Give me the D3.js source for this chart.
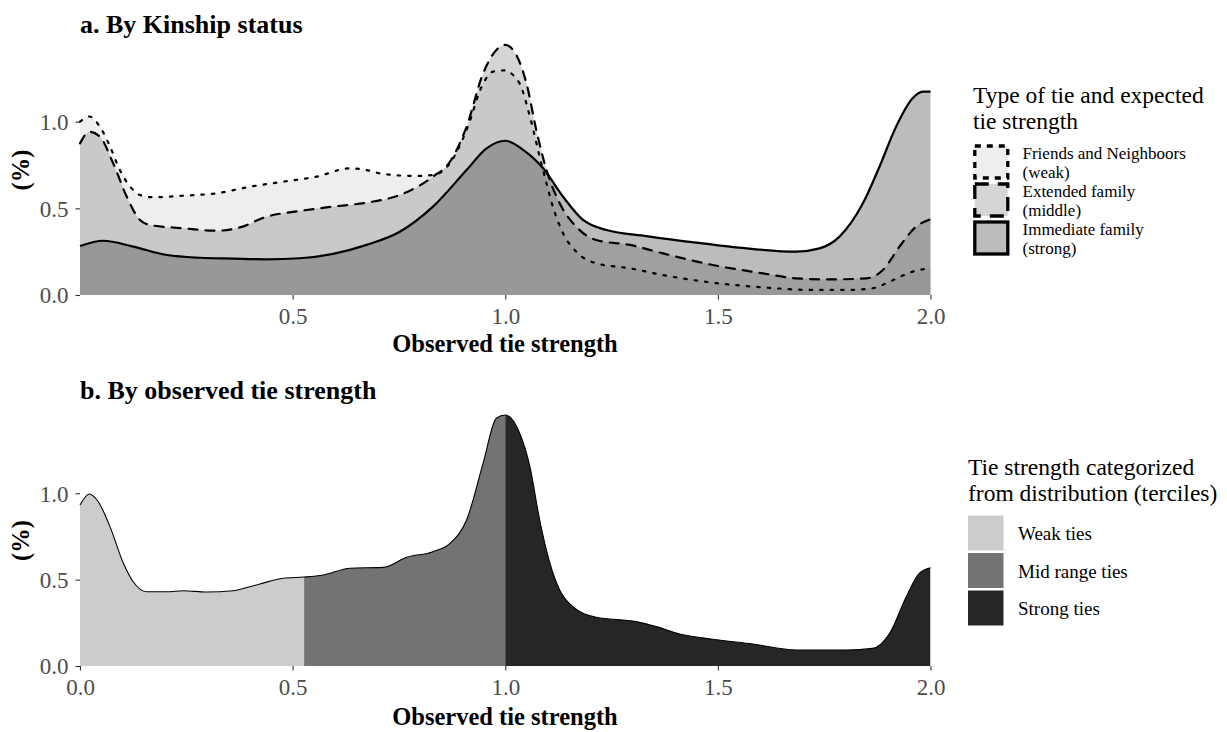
<!DOCTYPE html>
<html>
<head>
<meta charset="utf-8">
<script src="https://cdn.jsdelivr.net/npm/d3@7"></script>
<style>
  html, body { margin: 0; padding: 0; background: #fff; }
  svg { display: block; font-family: "Liberation Serif", "Times New Roman", serif; }
</style>
</head>
<body>
<svg id="chart" width="1227" height="732"></svg>
<script>
// Density of observed tie strength by kinship status (x = strength, y = density %)
const friendsWeak = [
  [0.000,1.00],[0.022,1.03],[0.047,0.97],[0.070,0.86],[0.094,0.72],[0.118,0.625],[0.141,0.577],
  [0.172,0.564],[0.243,0.573],[0.321,0.587],[0.400,0.625],[0.478,0.654],[0.556,0.683],[0.635,0.731],
  [0.674,0.721],[0.713,0.698],[0.791,0.687],[0.830,0.692],[0.870,0.76],[0.909,0.952],[0.948,1.22],
  [0.971,1.289],[0.999,1.296],[1.022,1.26],[1.034,1.22],[1.058,1.03],[1.081,0.798],[1.097,0.644],
  [1.112,0.51],[1.136,0.356],[1.167,0.25],[1.214,0.183],[1.293,0.154],[1.371,0.115],[1.488,0.071],
  [1.606,0.044],[1.723,0.029],[1.802,0.029],[1.864,0.039],[1.904,0.077],[1.958,0.135],[2.000,0.154]
];
const extendedMiddle = [
  [0.000,0.875],[0.022,0.942],[0.047,0.913],[0.078,0.76],[0.110,0.567],[0.141,0.433],[0.165,0.404],
  [0.243,0.385],[0.321,0.371],[0.376,0.39],[0.439,0.452],[0.517,0.485],[0.595,0.51],[0.674,0.533],
  [0.752,0.577],[0.830,0.683],[0.870,0.769],[0.909,0.971],[0.948,1.279],[0.979,1.414],[1.000,1.443],
  [1.026,1.385],[1.050,1.22],[1.073,0.952],[1.097,0.721],[1.128,0.529],[1.167,0.394],[1.214,0.317],
  [1.293,0.289],[1.371,0.24],[1.488,0.173],[1.606,0.125],[1.684,0.096],[1.763,0.09],[1.849,0.096],
  [1.888,0.144],[1.927,0.279],[1.966,0.394],[2.000,0.437]
];
const immediateStrong = [
  [0.000,0.283],[0.055,0.313],[0.125,0.279],[0.204,0.231],[0.282,0.215],[0.360,0.21],[0.439,0.206],
  [0.517,0.212],[0.595,0.237],[0.674,0.289],[0.752,0.365],[0.830,0.51],[0.909,0.721],[0.956,0.846],
  [1.000,0.89],[1.042,0.837],[1.089,0.731],[1.136,0.567],[1.183,0.433],[1.238,0.375],[1.332,0.34],
  [1.449,0.302],[1.567,0.269],[1.684,0.25],[1.739,0.269],[1.786,0.337],[1.841,0.529],[1.880,0.74],
  [1.919,0.971],[1.958,1.135],[1.982,1.173],[2.000,1.173]
];
// Overall density of observed tie strength
const observedAll = [
  [0.000,0.932],[0.022,0.996],[0.043,0.951],[0.0705,0.807],[0.102,0.595],[0.125,0.488],[0.157,0.43],
  [0.204,0.43],[0.243,0.436],[0.298,0.428],[0.360,0.436],[0.423,0.475],[0.478,0.508],[0.527,0.515],
  [0.572,0.527],[0.635,0.566],[0.713,0.571],[0.768,0.629],[0.830,0.662],[0.870,0.71],[0.909,0.845],
  [0.948,1.174],[0.979,1.434],[1.000,1.453],[1.034,1.347],[1.058,1.154],[1.081,0.845],[1.105,0.595],
  [1.128,0.44],[1.159,0.343],[1.214,0.282],[1.308,0.257],[1.355,0.228],[1.410,0.185],[1.488,0.155],
  [1.582,0.127],[1.684,0.093],[1.802,0.093],[1.864,0.102],[1.904,0.189],[1.943,0.401],[1.974,0.537],
  [2.000,0.569]
];
const tercileCuts = [0.527, 1.0];

const kinLabels = [["Friends and Neighboors", "(weak)"], ["Extended family", "(middle)"], ["Immediate family", "(strong)"]];
const kinFills = ["#cccccc", "#7f7f7f", "#333333"];
const kinDash = ["2.5,8", "9,8", null];
const kinKeyDash = ["6,6", "14,9", null];
const tercileLabels = ["Weak ties", "Mid range ties", "Strong ties"];
const tercileFills = ["#cccccc", "#737373", "#262626"];
const xTicksTop = [0.5, 1.0, 1.5, 2.0];
const xTicksBottom = [0.0, 0.5, 1.0, 1.5, 2.0];
const yTicks = [0.0, 0.5, 1.0];

const svg = d3.select("#chart");
const fmt = d3.format(".1f");
const x = d3.scaleLinear().domain([0, 2]).range([80, 930.5]);
const yTop = d3.scaleLinear().domain([0, 1.4426]).range([295, 45]);
const yBot = d3.scaleLinear().domain([0, 1.453]).range([666, 415]);

function axes(g, y, ticks, axisY, titleY, labelY) {
  const xa = d3.axisBottom(x).tickValues(ticks).tickFormat(fmt).tickSize(4.5).tickPadding(5);
  const gx = g.append("g").attr("transform", `translate(0,${axisY})`).call(xa);
  gx.select(".domain").remove();
  gx.selectAll("line").attr("stroke", "#333").attr("stroke-width", 1.1);
  gx.selectAll("text").attr("font-size", 23).attr("fill", "#4d4d4d").attr("font-family", "Liberation Serif")
    .attr("dy", null).attr("y", labelY - axisY);
  const ya = d3.axisLeft(y).tickValues(yTicks).tickFormat(fmt).tickSize(4.5).tickPadding(7);
  const gy = g.append("g").attr("transform", "translate(80,0)").call(ya);
  gy.select(".domain").remove();
  gy.selectAll("line").attr("stroke", "#333").attr("stroke-width", 1.1);
  gy.selectAll("text").attr("font-size", 23).attr("fill", "#4d4d4d").attr("font-family", "Liberation Serif")
    .attr("dy", "0.34em");
  g.append("text").attr("x", 505).attr("y", titleY).attr("text-anchor", "middle")
    .attr("font-size", 24.5).attr("font-weight", "bold").text("Observed tie strength");
  const ym = (y.range()[0] + y.range()[1]) / 2;
  g.append("text").attr("transform", `translate(29,${ym}) rotate(-90)`).attr("text-anchor", "middle")
    .attr("font-size", 24.5).attr("font-weight", "bold").text("(%)");
}

// ---- Panel a ----
const gA = svg.append("g");
gA.append("text").attr("x", 80).attr("y", 33).attr("font-size", 26).attr("font-weight", "bold")
  .text("a. By Kinship status");
const kinSeries = [friendsWeak, extendedMiddle, immediateStrong];
const areaTop = d3.area().x(d => x(d[0])).y0(yTop(0)).y1(d => yTop(d[1])).curve(d3.curveMonotoneX);
const lineTop = d3.line().x(d => x(d[0])).y(d => yTop(d[1])).curve(d3.curveMonotoneX);
kinSeries.forEach((s, i) => {
  gA.append("path").attr("d", areaTop(s)).attr("fill", kinFills[i]).attr("fill-opacity", 0.33);
});
kinSeries.forEach((s, i) => {
  gA.append("path").attr("d", lineTop(s)).attr("fill", "none").attr("stroke", "#000")
    .attr("stroke-width", 2.2).attr("stroke-linecap", i === 2 ? "butt" : "round")
    .attr("stroke-dasharray", kinDash[i]);
});
axes(gA, yTop, xTicksTop, 295, 352, 324);

// legend a
const legA = svg.append("g");
legA.append("text").attr("x", 973).attr("y", 103).attr("font-size", 23.5).text("Type of tie and expected");
legA.append("text").attr("x", 973).attr("y", 129).attr("font-size", 23.5).text("tie strength");
kinLabels.forEach((lab, i) => {
  const ky = 146 + i * 38;
  legA.append("rect").attr("x", 974.8).attr("y", ky).attr("width", 33).attr("height", 32)
    .attr("fill", kinFills[i]).attr("fill-opacity", 0.33)
    .attr("stroke", "#000").attr("stroke-width", 3.3).attr("stroke-dasharray", kinKeyDash[i]);
  const t = legA.append("text").attr("font-size", 17);
  t.append("tspan").attr("x", 1022.5).attr("y", 159 + i * 38).text(lab[0]);
  t.append("tspan").attr("x", 1022.5).attr("y", 178 + i * 38).text(lab[1]);
});

// ---- Panel b ----
const gB = svg.append("g");
gB.append("text").attr("x", 80).attr("y", 399).attr("font-size", 26).attr("font-weight", "bold")
  .text("b. By observed tie strength");
const bounds = [0, ...tercileCuts, 2];
const areaBot = d3.area().x(d => x(d[0])).y0(yBot(0)).y1(d => yBot(d[1])).curve(d3.curveMonotoneX);
const lineBot = d3.line().x(d => x(d[0])).y(d => yBot(d[1])).curve(d3.curveMonotoneX);
const defs = svg.append("defs");
tercileFills.forEach((c, i) => {
  defs.append("clipPath").attr("id", "terc" + i).append("rect")
    .attr("x", x(bounds[i])).attr("y", 380).attr("width", x(bounds[i + 1]) - x(bounds[i])).attr("height", 300);
  gB.append("path").attr("d", areaBot(observedAll)).attr("fill", c).attr("clip-path", `url(#terc${i})`);
});
gB.append("path").attr("d", lineBot(observedAll)).attr("fill", "none").attr("stroke", "#000").attr("stroke-width", 1.1);
axes(gB, yBot, xTicksBottom, 666, 725, 695);

// legend b
const legB = svg.append("g");
legB.append("text").attr("x", 968).attr("y", 475).attr("font-size", 23.5).text("Tie strength categorized");
legB.append("text").attr("x", 968).attr("y", 501).attr("font-size", 23.5).text("from distribution (terciles)");
tercileLabels.forEach((lab, i) => {
  legB.append("rect").attr("x", 968).attr("y", 515.5 + i * 37.5).attr("width", 35.5).attr("height", 35)
    .attr("fill", tercileFills[i]);
  legB.append("text").attr("x", 1018).attr("y", 540 + i * 37.5).attr("font-size", 19).text(lab);
});
</script>
</body>
</html>
